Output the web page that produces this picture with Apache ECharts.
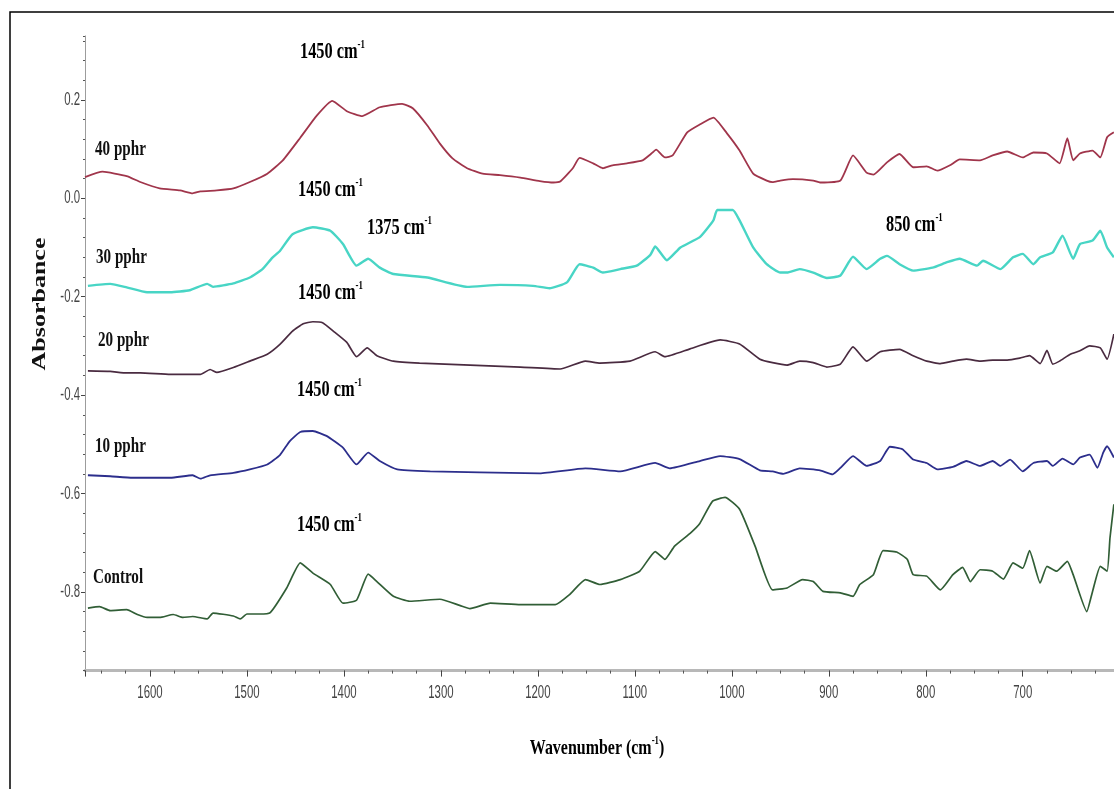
<!DOCTYPE html>
<html>
<head>
<meta charset="utf-8">
<script src="https://cdn.jsdelivr.net/npm/echarts@6/dist/echarts.min.js"></script>
<style>
  html, body { margin: 0; padding: 0; background: #ffffff; }
  #chart { width: 1114px; height: 789px; }
</style>
</head>
<body>
<div id="chart"></div>
<script>
// FTIR spectra: wavenumber (cm-1) and absorbance, one pair of arrays per sample
const wn40  = [1667,1649,1624,1610,1590,1569,1556,1548,1531,1514,1497,1479,1463,1445,1428,1412,1397,1381,1363,1340,1329,1314,1301,1288,1273,1257,1239,1218,1198,1184,1177,1164,1157,1143,1133,1123,1108,1092,1084,1078,1069,1061,1046,1033,1019,1005,992,978,964,958,950,937,916,909,888,875,861,854,840,827,813,799,788,775,765,744,731,716,700,689,675,662,654,648,641,628,620,613,606];
const abs40 = [0.043,0.054,0.045,0.033,0.020,0.016,0.010,0.014,0.016,0.020,0.033,0.050,0.077,0.123,0.168,0.198,0.177,0.167,0.185,0.192,0.183,0.148,0.111,0.081,0.061,0.050,0.047,0.042,0.035,0.032,0.034,0.061,0.082,0.071,0.061,0.067,0.071,0.077,0.089,0.099,0.083,0.087,0.134,0.150,0.164,0.132,0.097,0.050,0.036,0.033,0.036,0.039,0.036,0.032,0.036,0.087,0.052,0.048,0.073,0.090,0.063,0.065,0.056,0.067,0.079,0.077,0.087,0.095,0.083,0.093,0.091,0.071,0.122,0.077,0.091,0.097,0.083,0.124,0.134];

const wn30  = [1664,1641,1624,1603,1579,1559,1541,1535,1514,1497,1484,1474,1466,1453,1432,1414,1401,1387,1375,1363,1349,1314,1273,1239,1205,1188,1170,1157,1143,1133,1115,1098,1084,1079,1067,1053,1033,1019,1015,999,992,978,964,950,943,930,916,902,888,875,861,847,840,827,813,793,778,765,747,741,723,710,700,689,682,669,659,648,641,628,620,613,606];
const abs30 = [-0.178,-0.174,-0.181,-0.191,-0.191,-0.187,-0.174,-0.180,-0.173,-0.161,-0.144,-0.121,-0.107,-0.073,-0.059,-0.066,-0.093,-0.137,-0.123,-0.141,-0.154,-0.161,-0.180,-0.176,-0.178,-0.183,-0.171,-0.134,-0.141,-0.151,-0.144,-0.137,-0.115,-0.098,-0.126,-0.100,-0.079,-0.045,-0.024,-0.024,-0.045,-0.100,-0.134,-0.151,-0.151,-0.144,-0.151,-0.162,-0.157,-0.119,-0.144,-0.123,-0.117,-0.134,-0.147,-0.141,-0.130,-0.123,-0.137,-0.127,-0.144,-0.120,-0.113,-0.134,-0.120,-0.110,-0.076,-0.123,-0.093,-0.086,-0.066,-0.100,-0.120];

const wn20  = [1664,1641,1624,1610,1579,1548,1538,1531,1514,1497,1479,1466,1453,1442,1432,1422,1411,1397,1387,1376,1366,1349,1322,1270,1218,1177,1151,1136,1105,1079,1069,1043,1012,992,971,958,943,930,916,902,888,875,861,847,827,813,799,785,772,758,744,731,716,703,693,682,675,669,662,651,641,631,620,613,606];
const abs20 = [-0.351,-0.352,-0.355,-0.355,-0.358,-0.358,-0.348,-0.354,-0.344,-0.331,-0.317,-0.297,-0.270,-0.255,-0.251,-0.253,-0.270,-0.293,-0.322,-0.304,-0.320,-0.331,-0.335,-0.339,-0.343,-0.347,-0.331,-0.335,-0.331,-0.312,-0.322,-0.306,-0.288,-0.296,-0.327,-0.334,-0.339,-0.331,-0.334,-0.343,-0.337,-0.302,-0.331,-0.312,-0.307,-0.320,-0.331,-0.336,-0.331,-0.327,-0.331,-0.329,-0.329,-0.325,-0.320,-0.336,-0.309,-0.337,-0.331,-0.317,-0.310,-0.300,-0.304,-0.327,-0.276];

const wn10  = [1664,1641,1618,1579,1556,1548,1538,1514,1497,1479,1466,1456,1445,1432,1418,1401,1387,1375,1363,1345,1311,1260,1198,1151,1115,1079,1064,1033,1012,992,971,958,947,930,909,896,888,875,861,847,837,824,813,799,788,772,758,744,731,723,713,700,689,675,669,659,648,641,631,623,617,613,606];
const abs10 = [-0.563,-0.565,-0.568,-0.568,-0.563,-0.570,-0.563,-0.558,-0.551,-0.541,-0.522,-0.494,-0.475,-0.473,-0.483,-0.507,-0.541,-0.517,-0.534,-0.551,-0.555,-0.557,-0.559,-0.549,-0.555,-0.538,-0.549,-0.534,-0.524,-0.530,-0.553,-0.555,-0.560,-0.549,-0.553,-0.561,-0.548,-0.524,-0.544,-0.534,-0.505,-0.510,-0.531,-0.538,-0.551,-0.546,-0.534,-0.544,-0.534,-0.544,-0.531,-0.555,-0.538,-0.534,-0.544,-0.529,-0.541,-0.527,-0.521,-0.548,-0.517,-0.504,-0.527];

const wnCtrl  = [1664,1652,1641,1624,1613,1603,1590,1576,1566,1556,1541,1535,1514,1507,1500,1487,1476,1459,1445,1432,1414,1401,1387,1375,1366,1349,1332,1301,1280,1270,1249,1218,1182,1167,1151,1136,1115,1095,1079,1069,1059,1043,1033,1020,1007,992,976,958,943,927,916,906,888,875,868,854,844,830,819,813,799,785,772,762,754,744,731,720,710,700,693,682,675,665,654,648,634,628,620,613,610,606];
const absCtrl = [-0.833,-0.830,-0.838,-0.836,-0.846,-0.852,-0.852,-0.846,-0.852,-0.850,-0.855,-0.843,-0.849,-0.855,-0.845,-0.845,-0.842,-0.792,-0.741,-0.762,-0.785,-0.823,-0.817,-0.764,-0.779,-0.809,-0.819,-0.815,-0.828,-0.834,-0.823,-0.826,-0.826,-0.805,-0.775,-0.785,-0.775,-0.758,-0.718,-0.734,-0.707,-0.681,-0.661,-0.616,-0.608,-0.632,-0.707,-0.796,-0.792,-0.775,-0.779,-0.799,-0.802,-0.809,-0.785,-0.765,-0.716,-0.719,-0.734,-0.765,-0.768,-0.796,-0.765,-0.750,-0.779,-0.755,-0.758,-0.774,-0.741,-0.752,-0.716,-0.782,-0.748,-0.758,-0.738,-0.765,-0.840,-0.799,-0.748,-0.758,-0.690,-0.622];

const sampleNames  = ['40 pphr', '30 pphr', '20 pphr', '10 pphr', 'Control'];
const sampleColors = ['#a0354b', '#48d5c5', '#4a2b40', '#2c2e8c', '#315e36'];
const sampleWidths = [1.8, 2.4, 1.7, 1.8, 1.7];
const xTicks = [1600, 1500, 1400, 1300, 1200, 1100, 1000, 900, 800, 700];
const yTicks = [0.2, 0.0, -0.2, -0.4, -0.6, -0.8];
const yTickLabels = ['0.2', '0.0', '-0.2', '-0.4', '-0.6', '-0.8'];

const SERIF = "'Liberation Serif', 'Times New Roman', serif";
const SANS = "'Liberation Sans', Arial, sans-serif";

const zip = (xs, ys) => xs.map((x, i) => [x, ys[i]]);
const spectra = [zip(wn40, abs40), zip(wn30, abs30), zip(wn20, abs20), zip(wn10, abs10), zip(wnCtrl, absCtrl)];

// bold serif label with a superscript, squeezed horizontally like the figure's lettering
function supText(main, sup, tail, x, y, size, sx, align) {
  return {
    type: 'text', x: x, y: y, scaleX: sx, z: 10,
    style: {
      text: '{a|' + main + '}{s|' + sup + '}' + (tail ? '{a|' + tail + '}' : ''),
      align: align || 'left', verticalAlign: 'middle',
      rich: {
        a: { fontFamily: SERIF, fontWeight: 'bold', fontSize: size, color: '#111', lineHeight: size + 4 },
        s: { fontFamily: SERIF, fontWeight: 'bold', fontSize: Math.round(size * 0.55), color: '#111', verticalAlign: 'top', lineHeight: Math.round(size * 0.55) }
      }
    }
  };
}
function plainText(str, x, y, size, sx) {
  return {
    type: 'text', x: x, y: y, scaleX: sx, z: 10,
    style: { text: str, fontFamily: SERIF, fontWeight: 'bold', fontSize: size, fill: '#111', align: 'left', verticalAlign: 'middle' }
  };
}
// narrow tick label placed at an axis value
function tickText(str, x, y, align) {
  return {
    type: 'text', x: x, y: y, scaleX: 0.6, z: 10,
    style: { text: str, fontFamily: SANS, fontSize: 19, fill: '#444', align: align, verticalAlign: 'middle' }
  };
}

const chart = echarts.init(document.getElementById('chart'), null, { renderer: 'canvas' });

const option = {
  animation: false,
  backgroundColor: '#ffffff',
  grid: [
    { left: 85, right: -5.7, top: 35.9, bottom: 118.4, outerBoundsMode: 'none', containLabel: false },
    { left: 85, right: -5.7, top: 99.9, bottom: 197.1, outerBoundsMode: 'none', containLabel: false }
  ],
  xAxis: [
    {
      type: 'value', gridIndex: 0, position: 'bottom', inverse: true, min: 600, max: 1667, interval: 25,
      axisLine: { onZero: false, lineStyle: { color: '#b8b8b8', width: 3 } },
      axisTick: { length: 3, lineStyle: { color: '#555', width: 1 } },
      axisLabel: { show: false },
      splitLine: { show: false }
    },
    {
      type: 'value', gridIndex: 0, position: 'bottom', offset: 0, inverse: true, min: 600, max: 1667, interval: 100,
      axisLine: { show: false, onZero: false },
      axisTick: { length: 6, lineStyle: { color: '#444', width: 1 } },
      axisLabel: { show: false },
      splitLine: { show: false }
    },
    { type: 'value', gridIndex: 1, min: 0, max: 1, show: false }
  ],
  yAxis: [
    {
      type: 'value', gridIndex: 0, position: 'left', min: -0.96, max: 0.33, interval: 0.04,
      axisLine: { onZero: false, lineStyle: { color: '#9c9c9c', width: 1 } },
      axisTick: { length: 2, lineStyle: { color: '#555', width: 1 } },
      axisLabel: { show: false },
      splitLine: { show: false }
    },
    {
      type: 'value', gridIndex: 1, position: 'left', min: -0.8, max: 0.2, interval: 0.2,
      axisLine: { show: false, onZero: false },
      axisTick: { length: 4, lineStyle: { color: '#444', width: 1 } },
      axisLabel: { show: false },
      splitLine: { show: false }
    }
  ],
  series: spectra.map((d, i) => ({
    name: sampleNames[i],
    type: 'line',
    xAxisIndex: 0, yAxisIndex: 0,
    data: d,
    showSymbol: false,
    smooth: 0.15,
    lineStyle: { color: sampleColors[i], width: sampleWidths[i] },
    z: 3
  }))
};

chart.setOption(option);

// tick labels positioned through the axis scales
const tickLabels = [];
xTicks.forEach(v => {
  const px = chart.convertToPixel({ xAxisIndex: 0 }, v);
  tickLabels.push(tickText(String(v), px, 693, 'center'));
});
yTicks.forEach((v, i) => {
  const py = chart.convertToPixel({ yAxisIndex: 0 }, v);
  tickLabels.push(tickText(yTickLabels[i], 80, py, 'right'));
});

chart.setOption({
  graphic: [
    // outer frame
    { type: 'rect', z: 20, shape: { x: 10, y: 12, width: 1200, height: 900 }, style: { fill: 'none', stroke: '#000', lineWidth: 1.5 } },
    // sample names
    plainText(sampleNames[0], 95, 150, 21, 0.72),
    plainText(sampleNames[1], 96, 258, 21, 0.72),
    plainText(sampleNames[2], 98, 341, 21, 0.72),
    plainText(sampleNames[3], 95, 447, 21, 0.72),
    plainText(sampleNames[4], 93, 578, 21, 0.72),
    // band annotations
    supText('1450 cm', '-1', '', 300, 52, 24, 0.68),
    supText('1450 cm', '-1', '', 298, 190, 24, 0.68),
    supText('1375 cm', '-1', '', 367, 228, 24, 0.68),
    supText('850 cm', '-1', '', 886, 225, 24, 0.68),
    supText('1450 cm', '-1', '', 298, 293, 24, 0.68),
    supText('1450 cm', '-1', '', 297, 390, 24, 0.68),
    supText('1450 cm', '-1', '', 297, 525, 24, 0.68),
    // axis titles
    supText('Wavenumber (cm', '-1', ')', 597, 748, 22, 0.725, 'center'),
    {
      type: 'text', x: 40, y: 304, rotation: Math.PI / 2, scaleY: 0.72, z: 10,
      style: { text: 'Absorbance', fontFamily: SERIF, fontWeight: 'bold', fontSize: 26, fill: '#111', align: 'center', verticalAlign: 'middle' }
    }
  ].concat(tickLabels)
});
</script>
</body>
</html>
